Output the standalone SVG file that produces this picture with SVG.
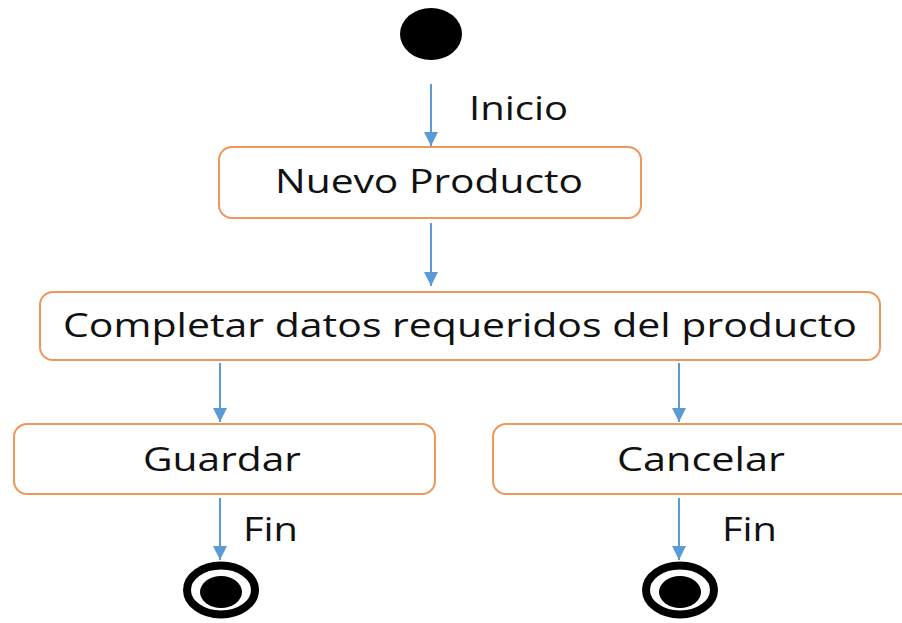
<svg xmlns="http://www.w3.org/2000/svg" width="902" height="623" viewBox="0 0 902 623">
<style>
.box{fill:#fff;stroke:#F0965A;stroke-width:2}
.lbl{font-family:"Open Sans","Liberation Sans",sans-serif;font-size:33px;fill:#111}
.edge{stroke:#5B9BD5;stroke-width:2;fill:none;marker-end:url(#arr)}
.ring{fill:none;stroke:#000;stroke-width:8}
</style>
<defs>
<marker id="arr" markerUnits="userSpaceOnUse" markerWidth="14" markerHeight="14" viewBox="0 0 14 14" refX="14" refY="7" orient="auto">
<path d="M0,0 L14,7 L0,14 Z" fill="#5B9BD5"/>
</marker>
</defs>
<rect width="902" height="623" fill="#fff"/>
<g id="edges">
<line class="edge" x1="431" y1="84" x2="431" y2="146"/>
<line class="edge" x1="431" y1="223" x2="431" y2="286"/>
<line class="edge" x1="220" y1="363" x2="220" y2="422"/>
<line class="edge" x1="679" y1="363" x2="679" y2="422"/>
<line class="edge" x1="220" y1="498" x2="220" y2="560"/>
<line class="edge" x1="679" y1="498" x2="679" y2="560"/>
<text class="lbl" x="469" y="120" textLength="99" lengthAdjust="spacingAndGlyphs">Inicio</text>
<text class="lbl" x="243" y="541" textLength="55" lengthAdjust="spacingAndGlyphs">Fin</text>
<text class="lbl" x="722" y="541" textLength="55" lengthAdjust="spacingAndGlyphs">Fin</text>
</g>
<g id="start">
<ellipse cx="431" cy="34" rx="31" ry="26" fill="#000"/>
</g>
<g id="nuevo">
<rect class="box" x="219" y="147" width="422" height="71" rx="13"/>
<text class="lbl" x="275" y="193" textLength="308" lengthAdjust="spacingAndGlyphs">Nuevo Producto</text>
</g>
<g id="completar">
<rect class="box" x="40" y="292" width="840" height="68" rx="13"/>
<text class="lbl" x="63" y="337" textLength="794" lengthAdjust="spacingAndGlyphs">Completar datos requeridos del producto</text>
</g>
<g id="guardar">
<rect class="box" x="14" y="424" width="421" height="70" rx="13"/>
<text class="lbl" x="143" y="471" textLength="158" lengthAdjust="spacingAndGlyphs">Guardar</text>
</g>
<g id="cancelar">
<rect class="box" x="493" y="424" width="430" height="70" rx="13"/>
<text class="lbl" x="617" y="471" textLength="168" lengthAdjust="spacingAndGlyphs">Cancelar</text>
</g>
<g id="fin1">
<ellipse class="ring" cx="221" cy="590" rx="34" ry="24.5"/>
<ellipse cx="221" cy="592" rx="21" ry="16" fill="#000"/>
</g>
<g id="fin2">
<ellipse class="ring" cx="680" cy="590" rx="34" ry="24.5"/>
<ellipse cx="680" cy="592" rx="21" ry="16" fill="#000"/>
</g>
</svg>
